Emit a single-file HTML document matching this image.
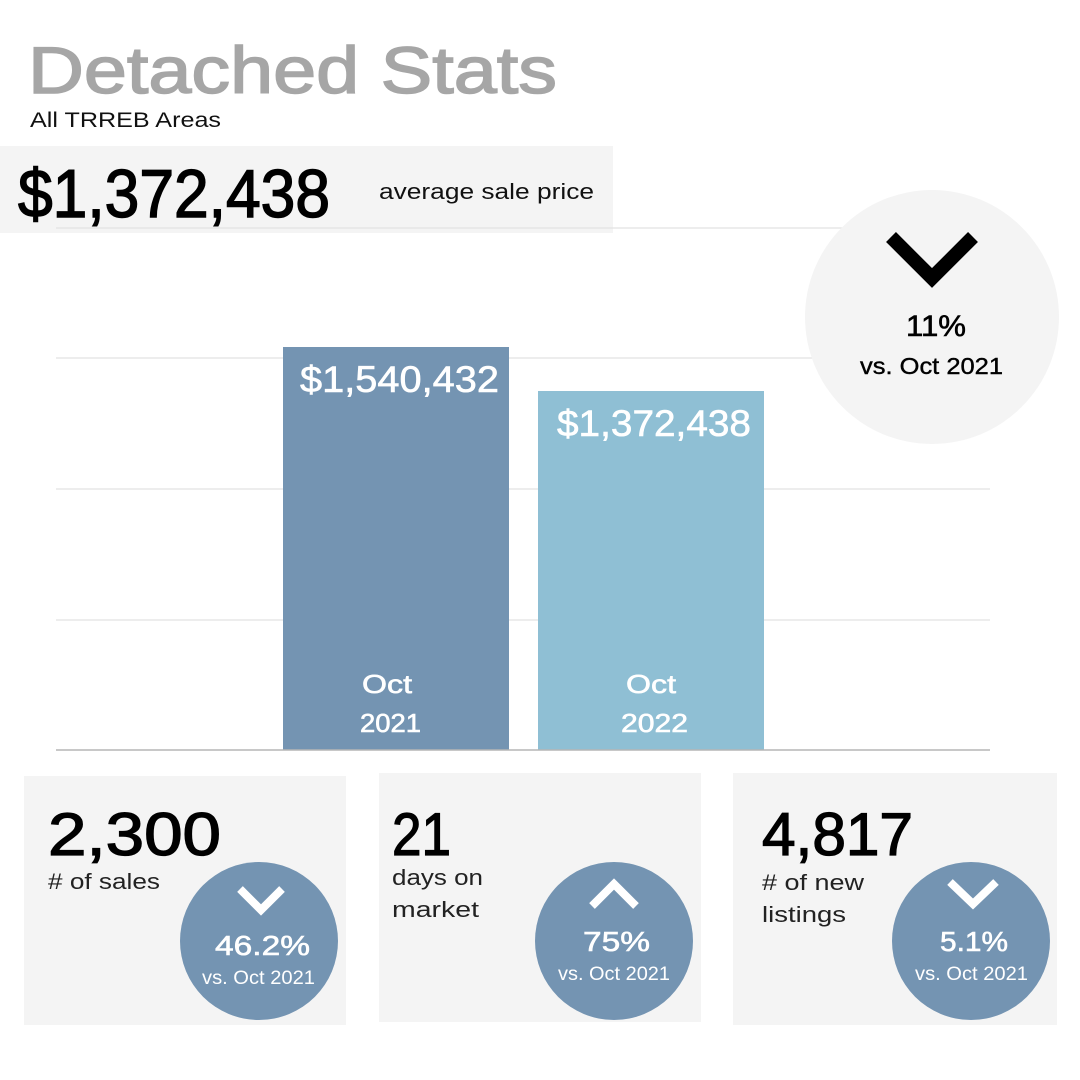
<!DOCTYPE html>
<html><head><meta charset="utf-8"><style>html,body{margin:0;padding:0;background:#fff}svg{display:block}</style></head>
<body>
<svg width="1080" height="1080" viewBox="0 0 1080 1080" xmlns="http://www.w3.org/2000/svg" font-family="Liberation Sans, sans-serif">
<rect width="1080" height="1080" fill="#fff"/>
<text x="28" y="93" font-size="66" fill="#a6a6a6" stroke="#a6a6a6" stroke-width="1.5" textLength="529" lengthAdjust="spacingAndGlyphs">Detached Stats</text>
<text x="30" y="127" font-size="21" fill="#111" textLength="191" lengthAdjust="spacingAndGlyphs">All TRREB Areas</text>
<rect x="0" y="146" width="613" height="87" fill="#f4f4f4"/>
<g stroke="#e2e2e2" stroke-width="1.2">
<line x1="56" y1="228" x2="990" y2="228"/><line x1="56" y1="358" x2="990" y2="358"/>
<line x1="56" y1="489" x2="990" y2="489"/><line x1="56" y1="620" x2="990" y2="620"/>
</g>
<text x="18" y="217" font-size="68" fill="#000" stroke="#000" stroke-width="1.5" textLength="312" lengthAdjust="spacingAndGlyphs">$1,372,438</text>
<text x="379" y="199" font-size="22" fill="#111" textLength="215" lengthAdjust="spacingAndGlyphs">average sale price</text>
<rect x="283" y="347" width="226" height="403" fill="#7494b2"/>
<rect x="538" y="391" width="226" height="359" fill="#8fbfd4"/>
<line x1="56" y1="750" x2="990" y2="750" stroke="#b5b5b5" stroke-width="1.5"/>
<g fill="#fff" stroke="#fff" stroke-width="0.6">
<text x="300" y="392" font-size="37" textLength="199" lengthAdjust="spacingAndGlyphs">$1,540,432</text>
<text x="557" y="436" font-size="37" textLength="194" lengthAdjust="spacingAndGlyphs">$1,372,438</text>
<text x="362" y="693" font-size="26" textLength="50" lengthAdjust="spacingAndGlyphs">Oct</text>
<text x="360" y="732" font-size="26" textLength="61" lengthAdjust="spacingAndGlyphs">2021</text>
<text x="626" y="693" font-size="26" textLength="50" lengthAdjust="spacingAndGlyphs">Oct</text>
<text x="621" y="732" font-size="26" textLength="67" lengthAdjust="spacingAndGlyphs">2022</text>
</g>
<circle cx="932" cy="317" r="127" fill="#f4f4f4"/>
<polyline points="891,237 932,278 973,237" fill="none" stroke="#000" stroke-width="14"/>
<text x="906" y="336" font-size="30" fill="#000" stroke="#000" stroke-width="0.6" textLength="60" lengthAdjust="spacingAndGlyphs">11%</text>
<text x="860" y="374" font-size="23" fill="#000" stroke="#000" stroke-width="0.4" textLength="143" lengthAdjust="spacingAndGlyphs">vs. Oct 2021</text>
<rect x="24" y="776" width="322" height="249" fill="#f4f4f4"/>
<rect x="379" y="773" width="322" height="249" fill="#f4f4f4"/>
<rect x="733" y="773" width="324" height="252" fill="#f4f4f4"/>
<g fill="#000" stroke="#000" stroke-width="1.3">
<text x="48" y="855" font-size="60" textLength="173" lengthAdjust="spacingAndGlyphs">2,300</text>
<text x="392" y="855" font-size="60" textLength="59" lengthAdjust="spacingAndGlyphs">21</text>
<text x="762" y="855" font-size="60" textLength="151" lengthAdjust="spacingAndGlyphs">4,817</text>
</g>
<g fill="#222" font-size="22">
<text x="48" y="889" textLength="112" lengthAdjust="spacingAndGlyphs"># of sales</text>
<text x="392" y="885" textLength="91" lengthAdjust="spacingAndGlyphs">days on</text>
<text x="392" y="917" textLength="87" lengthAdjust="spacingAndGlyphs">market</text>
<text x="762" y="890" textLength="102" lengthAdjust="spacingAndGlyphs"># of new</text>
<text x="762" y="922" textLength="84" lengthAdjust="spacingAndGlyphs">listings</text>
</g>
<circle cx="259" cy="941" r="79" fill="#7494b2"/>
<circle cx="614" cy="941" r="79" fill="#7494b2"/>
<circle cx="971" cy="941" r="79" fill="#7494b2"/>
<g fill="none" stroke="#fff" stroke-width="8">
<polyline points="240,889 261,910 282,889"/>
<polyline points="592,906 614,884 636,906"/>
<polyline points="950,882 973,904 996,882"/>
</g>
<g fill="#fff">
<text x="215" y="955" font-size="28" stroke="#fff" stroke-width="0.6" textLength="95" lengthAdjust="spacingAndGlyphs">46.2%</text>
<text x="202" y="984" font-size="19" textLength="113" lengthAdjust="spacingAndGlyphs">vs. Oct 2021</text>
<text x="583" y="951" font-size="28" stroke="#fff" stroke-width="0.6" textLength="67" lengthAdjust="spacingAndGlyphs">75%</text>
<text x="558" y="980" font-size="19" textLength="112" lengthAdjust="spacingAndGlyphs">vs. Oct 2021</text>
<text x="940" y="951" font-size="28" stroke="#fff" stroke-width="0.6" textLength="68" lengthAdjust="spacingAndGlyphs">5.1%</text>
<text x="915" y="980" font-size="19" textLength="113" lengthAdjust="spacingAndGlyphs">vs. Oct 2021</text>
</g>
</svg>
</body></html>
